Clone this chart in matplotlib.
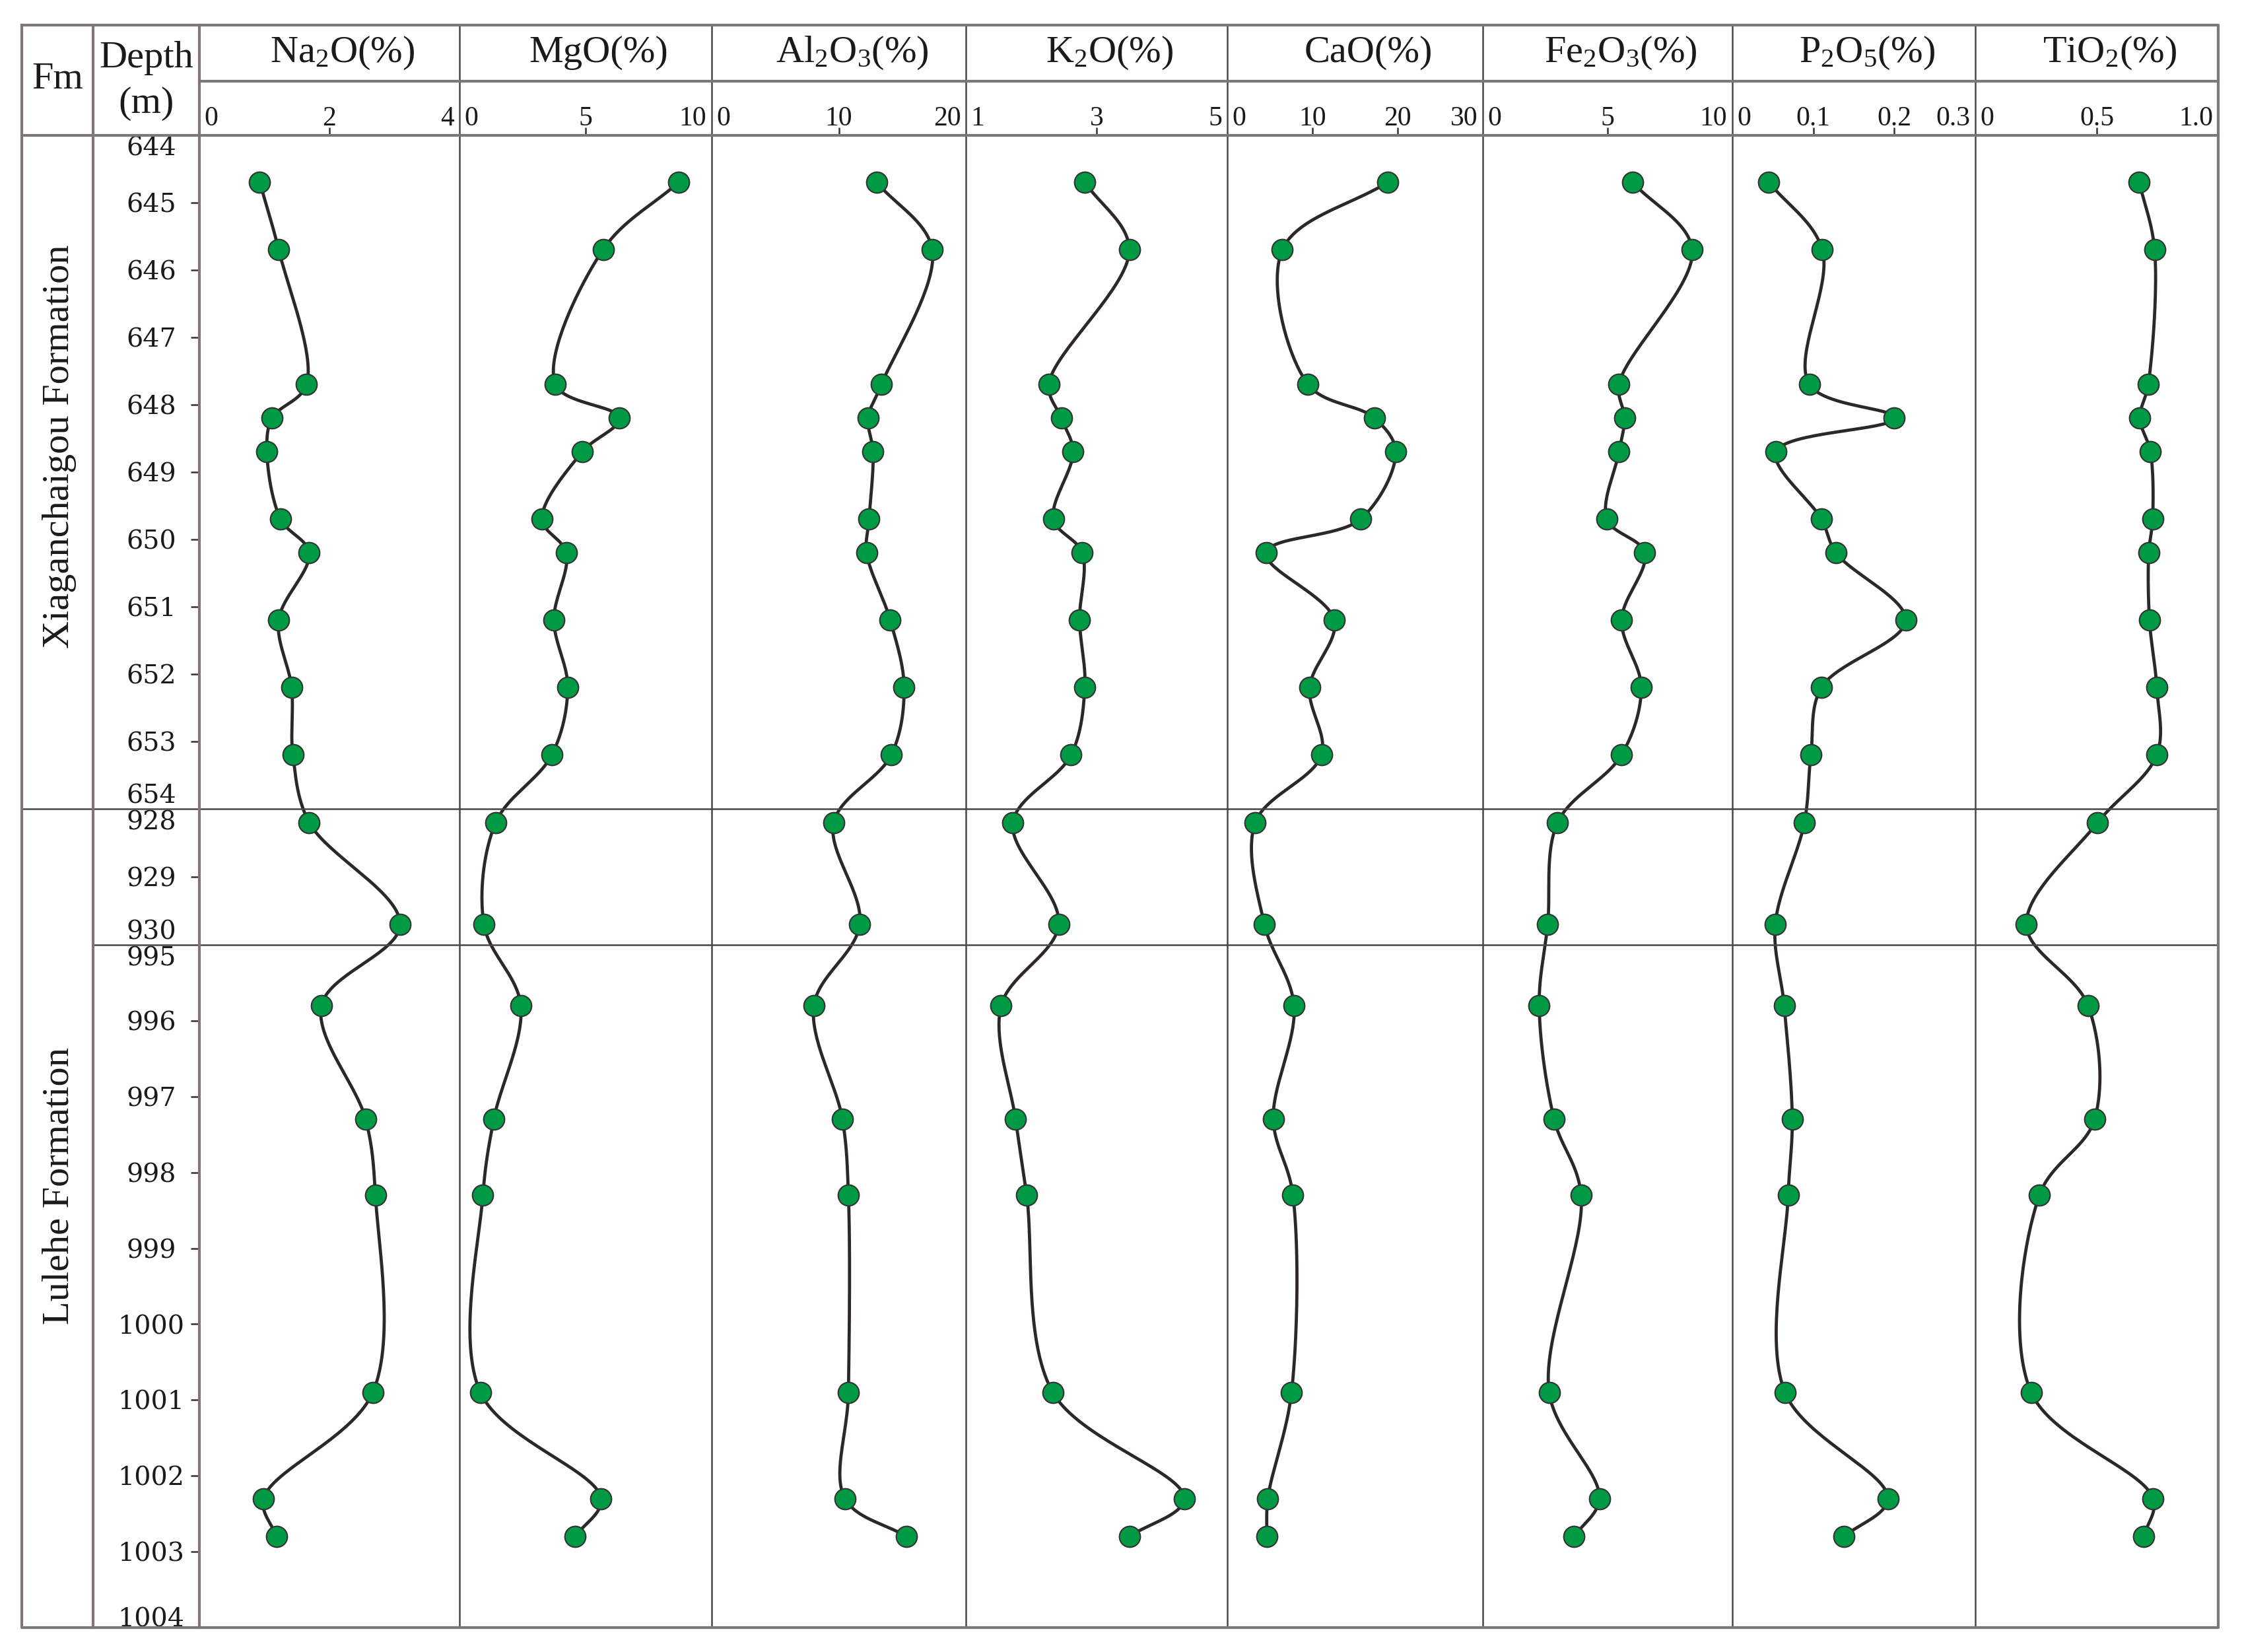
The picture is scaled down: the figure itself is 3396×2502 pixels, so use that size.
import numpy as np
import matplotlib
matplotlib.use('Agg')
import matplotlib.pyplot as plt
from matplotlib.lines import Line2D

plt.rcParams['font.family'] = 'Liberation Serif'
plt.rcParams['mathtext.fontset'] = 'custom'
plt.rcParams['mathtext.rm'] = 'Liberation Serif'
plt.rcParams['mathtext.it'] = 'Liberation Serif:italic'

# ---------------------------------------------------------------------------
# data (sample depths in m, oxide contents in %)
# ---------------------------------------------------------------------------
DEPTH = [644.7, 645.7, 647.7, 648.2, 648.7, 649.7, 650.2, 651.2, 652.2, 653.2,
         928.2, 929.7,
         995.8, 997.3, 998.3, 1000.9, 1002.3, 1002.8]

NA2O = [0.93, 1.22, 1.65, 1.12, 1.04, 1.25, 1.69, 1.22, 1.42, 1.44,
        1.69, 3.09, 1.88, 2.56, 2.71, 2.67, 0.99, 1.19]
MGO = [8.70, 5.70, 3.81, 6.34, 4.88, 3.28, 4.24, 3.75, 4.30, 3.67,
       1.45, 0.98, 2.44, 1.37, 0.94, 0.84, 5.62, 4.59]
AL2O3 = [12.97, 17.35, 13.36, 12.31, 12.70, 12.38, 12.19, 14.05, 15.14, 14.13,
         9.60, 11.65, 8.04, 10.29, 10.76, 10.76, 10.49, 15.33]
K2O = [2.82, 3.50, 2.27, 2.46, 2.64, 2.34, 2.78, 2.74, 2.82, 2.61,
       1.72, 2.42, 1.54, 1.76, 1.93, 2.33, 4.34, 3.50]
CAO = [18.85, 6.47, 9.47, 17.28, 19.77, 15.66, 4.57, 12.56, 9.66, 11.05,
       3.29, 4.36, 7.83, 5.40, 7.71, 7.54, 4.76, 4.64]
FE2O3 = [6.00, 8.39, 5.46, 5.68, 5.46, 4.97, 6.49, 5.56, 6.35, 5.56,
         3.00, 2.60, 2.26, 2.86, 3.94, 2.66, 4.67, 3.65]
P2O5 = [0.045, 0.111, 0.095, 0.200, 0.054, 0.110, 0.128, 0.214, 0.110, 0.097,
        0.089, 0.053, 0.064, 0.074, 0.069, 0.065, 0.192, 0.138]
TIO2 = [0.675, 0.738, 0.712, 0.677, 0.721, 0.730, 0.714, 0.717, 0.747, 0.747,
        0.504, 0.210, 0.464, 0.491, 0.264, 0.230, 0.732, 0.692]

TITLES = ['Na$_2$O(%)', 'MgO(%)', 'Al$_2$O$_3$(%)', 'K$_2$O(%)', 'CaO(%)',
          'Fe$_2$O$_3$(%)', 'P$_2$O$_5$(%)', 'TiO$_2$(%)']
SERIES = [NA2O, MGO, AL2O3, K2O, CAO, FE2O3, P2O5, TIO2]
XLIMS = [(0, 4), (0, 10), (0, 20), (1, 5), (0, 30), (0, 10), (0, 0.3), (0, 1.0)]
XTICKS = [[0, 2, 4], [0, 5, 10], [0, 10, 20], [1, 3, 5], [0, 10, 20, 30],
          [0, 5, 10], [0, 0.1, 0.2, 0.3], [0, 0.5, 1.0]]
XTICKLABELS = [['0', '2', '4'], ['0', '5', '10'], ['0', '10', '20'],
               ['1', '3', '5'], ['0', '10', '20', '30'], ['0', '5', '10'],
               ['0', '0.1', '0.2', '0.3'], ['0', '0.5', '1.0']]

# broken depth axis: three intervals stacked on top of each other
DEPTH_BREAKS = [644, 654, 928, 930, 995, 1004]
DEPTH_LABELS = [644, 645, 646, 647, 648, 649, 650, 651, 652, 653, 654,
                928, 929, 930,
                995, 996, 997, 998, 999, 1000, 1001, 1002, 1003, 1004]
FORMATIONS = ['Xiaganchaigou Formation', 'Lulehe Formation']

# ---------------------------------------------------------------------------
# layout in pixels of the final 3396 x 2502 picture
# ---------------------------------------------------------------------------
W, H = 3396, 2502
X_EDGES = [33, 141, 302, 695.5, 1078, 1463, 1859, 2246, 2624, 2992, 3360]
Y_TOP, Y_MID, Y_HDR, Y_SEP1, Y_SEP2, Y_BOT = 38, 123, 204.5, 1225, 1431, 2465
POS_BREAKS = [Y_HDR, Y_SEP1, Y_SEP1 + 0.01, Y_SEP2, Y_SEP2 + 0.01, Y_BOT]

THICK = dict(color='#7d7777', lw=1.0, solid_capstyle='projecting')
THIN = dict(color='#4a4646', lw=0.6)
GREEN = '#009944'


def fx(px):
    return px / W


def fy(py):
    return 1 - py / H


def depth_to_pos(d):
    return np.interp(d, DEPTH_BREAKS, POS_BREAKS)


def pos_to_depth(p):
    return np.interp(p, POS_BREAKS, DEPTH_BREAKS)


def catmull_rom(P, n=40, alpha=0.5):
    """Centripetal Catmull-Rom curve through the points P (k x 2)."""
    P = np.asarray(P, float)
    P = np.vstack([2 * P[0] - P[1], P, 2 * P[-1] - P[-2]])
    out = []
    for i in range(1, len(P) - 2):
        p0, p1, p2, p3 = P[i - 1:i + 3]
        t0 = 0.0
        t1 = t0 + np.linalg.norm(p1 - p0) ** alpha
        t2 = t1 + np.linalg.norm(p2 - p1) ** alpha
        t3 = t2 + np.linalg.norm(p3 - p2) ** alpha
        t = np.linspace(t1, t2, n)[:, None]
        a1 = (t1 - t) / (t1 - t0) * p0 + (t - t0) / (t1 - t0) * p1
        a2 = (t2 - t) / (t2 - t1) * p1 + (t - t1) / (t2 - t1) * p2
        a3 = (t3 - t) / (t3 - t2) * p2 + (t - t2) / (t3 - t2) * p3
        b1 = (t2 - t) / (t2 - t0) * a1 + (t - t0) / (t2 - t0) * a2
        b2 = (t3 - t) / (t3 - t1) * a2 + (t - t1) / (t3 - t1) * a3
        c = (t2 - t) / (t2 - t1) * b1 + (t - t1) / (t2 - t1) * b2
        out.append(c if i == 1 else c[1:])
    return np.vstack(out)


def fig_line(xs, ys, **kw):
    fig.add_artist(Line2D([fx(x) for x in xs], [fy(y) for y in ys],
                          transform=fig.transFigure, zorder=5, **kw))


fig = plt.figure(figsize=(W / 300, H / 300), dpi=300)

# ---------------------------------------------------------------------------
# depth column
# ---------------------------------------------------------------------------
dax = fig.add_axes([fx(X_EDGES[1]), fy(Y_BOT),
                    fx(X_EDGES[2]) - fx(X_EDGES[1]), fy(Y_HDR) - fy(Y_BOT)])
dax.set_yscale('function', functions=(depth_to_pos, pos_to_depth))
dax.set_ylim(1004, 644)
dax.set_xlim(0, 1)
dax.patch.set_visible(False)
for s in dax.spines.values():
    s.set_visible(False)
dax.set_xticks([])
inner = [d for d in DEPTH_LABELS if d not in DEPTH_BREAKS]
dax.set_yticks(inner)
dax.tick_params(axis='y', left=False, right=True, labelleft=False,
                labelright=False, direction='in', length=3.1, width=0.6,
                color='#333333')
label_x = (229 - X_EDGES[1]) / (X_EDGES[2] - X_EDGES[1])
for d in DEPTH_LABELS:
    if d in (644, 928, 995):
        off = -7.5
    elif d == 1004:
        off = 0.3
    elif d in (654, 930):
        off = 2.0
    else:
        off = -3.5
    dax.annotate(str(d), xy=(label_x, d), xycoords=('axes fraction', 'data'),
                 xytext=(0, off), textcoords='offset points', ha='center',
                 va='baseline', family='DejaVu Serif', fontsize=9.5,
                 color='#1a1a1a', annotation_clip=False)

# ---------------------------------------------------------------------------
# oxide columns
# ---------------------------------------------------------------------------
for k, (vals, title, (lo, hi), ticks, labels) in enumerate(
        zip(SERIES, TITLES, XLIMS, XTICKS, XTICKLABELS)):
    x0, x1 = X_EDGES[k + 2], X_EDGES[k + 3]
    ax = fig.add_axes([fx(x0), fy(Y_BOT), fx(x1) - fx(x0), fy(Y_HDR) - fy(Y_BOT)])
    ax.set_yscale('function', functions=(depth_to_pos, pos_to_depth))
    ax.set_ylim(1004, 644)
    ax.set_xlim(lo, hi)
    ax.patch.set_visible(False)
    for s in ax.spines.values():
        s.set_visible(False)
    ax.set_yticks([])
    ax.set_xticks(ticks[1:-1])
    ax.tick_params(axis='x', top=True, bottom=False, labeltop=False,
                   labelbottom=False, direction='out', length=2.9, width=0.6,
                   color='#333333')

    # smooth line computed in pixel space, then mapped back to data units
    u = (np.asarray(vals) - lo) / (hi - lo) * (x1 - x0)
    v = depth_to_pos(np.asarray(DEPTH))
    curve = catmull_rom(np.column_stack([u, v]))
    ax.plot(lo + curve[:, 0] / (x1 - x0) * (hi - lo), pos_to_depth(curve[:, 1]),
            color='#2d2828', lw=1.15, zorder=2, solid_capstyle='round')
    ax.plot(vals, DEPTH, 'o', ms=7.6, mfc=GREEN, mec='#333333', mew=0.5,
            zorder=3, clip_on=False)

    for t, lab in zip(ticks, labels):
        if t == ticks[0]:
            ha, dx = 'left', 1.8
        elif t == ticks[-1]:
            ha, dx = 'right', -1.8
        else:
            ha, dx = 'center', 0
        ax.annotate(lab, xy=(t, 1), xycoords=('data', 'axes fraction'),
                    xytext=(dx, 3.5), textcoords='offset points', ha=ha,
                    va='baseline', fontsize=10, color='#1a1a1a',
                    annotation_clip=False)

    fig.text(fx((x0 + x1) / 2 + 20), fy(80), title, ha='center', va='center',
             fontsize=14, color='#1a1a1a')

# ---------------------------------------------------------------------------
# header and formation texts
# ---------------------------------------------------------------------------
fig.text(fx(87), fy(120), 'Fm', ha='center', va='center', fontsize=14,
         color='#1a1a1a')
fig.text(fx(222), fy(88), 'Depth', ha='center', va='center', fontsize=14,
         color='#1a1a1a')
fig.text(fx(222), fy(157), '(m)', ha='center', va='center', fontsize=14,
         color='#1a1a1a')
fig.text(fx(90), fy(676), FORMATIONS[0], rotation=90, ha='center',
         va='center', fontsize=14, color='#1a1a1a')
fig.text(fx(90), fy(1796), FORMATIONS[1], rotation=90, ha='center',
         va='center', fontsize=14, color='#1a1a1a')

# ---------------------------------------------------------------------------
# table lines
# ---------------------------------------------------------------------------
for x in X_EDGES[3:-1]:
    fig_line([x, x], [Y_TOP, Y_BOT], **THIN)
fig_line([X_EDGES[0], X_EDGES[-1]], [Y_SEP1, Y_SEP1], **THIN)
fig_line([X_EDGES[1], X_EDGES[-1]], [Y_SEP2, Y_SEP2], **THIN)
fig_line([X_EDGES[2], X_EDGES[-1]], [Y_MID, Y_MID], **THICK)
fig_line([X_EDGES[0], X_EDGES[-1]], [Y_HDR, Y_HDR], **THICK)
for x in X_EDGES[1:3]:
    fig_line([x, x], [Y_TOP, Y_BOT], **THICK)
fig_line([X_EDGES[0], X_EDGES[-1], X_EDGES[-1], X_EDGES[0], X_EDGES[0]],
         [Y_TOP, Y_TOP, Y_BOT, Y_BOT, Y_TOP], **THICK)

fig.savefig('out.png', dpi=300, facecolor='white')
